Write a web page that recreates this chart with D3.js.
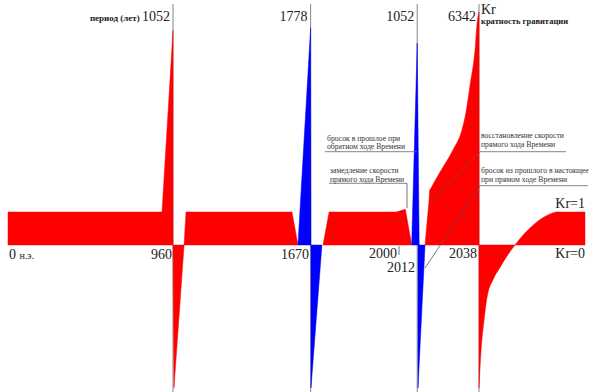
<!DOCTYPE html>
<html><head><meta charset="utf-8">
<script src="https://cdn.jsdelivr.net/npm/d3@7"></script>
<style>body{margin:0;background:#fff}svg{display:block}</style>
</head><body><svg id="c" width="591" height="392" font-family="'Liberation Serif','Times New Roman',serif"></svg>
<script>
// --- data (years on x, gravity multiple Kr on y) ---
const axisYears = [0, 960, 1670, 2000, 2012, 2038, 2100];
const axisLabels = ["0", "960", "1670", "2000", "2012", "2038"];
const periodYears = [960, 1668, 2011.5, 2038];
const periodLabels = ["1052", "1778", "1052", "6342"];
const redUp1 = [[0,0],[0,1],[896,1],[960,6.5],[960,0]];
const redDown1 = [[960,0],[1017,0],[965,-4.33]];
const redBlock2 = [[1017,0],[1027,1],[1572,1],[1603,0]];
const blueUp1 = [[1603,0],[1668,6.58],[1670,0]];
const blueDown1 = [[1670,0],[1711,0],[1670,-4.33]];
const redBlock3 = [[1715,0],[1738,1],[1989,1],[2004,1.08],[2008,0]];
const blueUp2 = [[2008,0],[2011.5,6.12],[2012.5,0]];
const blueDown2 = [[2012,0],[2015,0],[2012,-4.33]];
const redRiseStart = [[2015,0],[2017.1,1.67],[2017.1,0]];
const redRise = [[2017.1,1.67],[2021.4,2.21],[2026.9,2.88],[2030.7,3.48],[2032.4,4.0],[2034.2,4.85],[2036.3,5.91],[2037.3,6.8],[2038,7.06]];
const redRecover = [[2038,-4.33],[2039.2,-3.2],[2040.9,-2.3],[2042.7,-1.58],[2046.2,-1.05],[2050.3,-0.68],[2054.4,-0.33],[2059.1,0],[2064.3,0.33],[2069.6,0.6],[2075.5,0.83],[2079.5,0.94],[2083.6,1],[2100,1]];

const svg = d3.select("#c");
const x = d3.scaleLinear().domain(axisYears).range([8, 173, 311, 399, 418, 479, 585]);
const y = d3.scaleLinear().domain([0, 1]).range([245, 212]);

// period guide lines
svg.selectAll(".pl").data(periodYears).join("line")
  .attr("x1", d => x(d)).attr("x2", d => x(d)).attr("y1", 4).attr("y2", 392)
  .attr("stroke", "#666").attr("stroke-width", 0.8);

const poly = d3.line().x(d => x(d[0])).y(d => y(d[1]));
const shapes = [
  [redUp1, "#ff0000"], [redDown1, "#ff0000"], [redBlock2, "#ff0000"],
  [blueUp1, "#0000ff"], [blueDown1, "#0000ff"], [redBlock3, "#ff0000"],
  [blueUp2, "#0000ff"], [blueDown2, "#0000ff"], [redRiseStart, "#ff0000"]
];
svg.selectAll(".sh").data(shapes).join("path")
  .attr("d", d => poly(d[0]) + "Z").attr("fill", d => d[1])
  .attr("stroke", d => d[1] === "#ff0000" ? "#ff0000" : "#0000ee").attr("stroke-width", 0.5);

const area = d3.area().x(d => x(d[0])).y0(y(0)).y1(d => y(d[1])).curve(d3.curveMonotoneX);
[redRise, redRecover].forEach(s =>
  svg.append("path").attr("d", area(s)).attr("fill", "#ff0000").attr("stroke", "#ff0000").attr("stroke-width", 0.5));

// 2000 tick
svg.append("line").attr("x1", x(2000)).attr("x2", x(2000)).attr("y1", 246).attr("y2", 255)
  .attr("stroke", "#555").attr("stroke-width", 0.8);

// axis labels
const lab = svg.append("g").attr("fill", "#222").attr("font-size", 14);
lab.append("text").attr("x", x(0) + 1).attr("y", 259)
  .call(t => { t.append("tspan").text(axisLabels[0] + " "); t.append("tspan").attr("font-size", 10).text("н.э."); });
lab.append("text").attr("x", x(960) - 1).attr("y", 259).attr("text-anchor", "end").text(axisLabels[1]);
lab.append("text").attr("x", x(1670) - 2).attr("y", 259).attr("text-anchor", "end").text(axisLabels[2]);
lab.append("text").attr("x", x(2000) - 2).attr("y", 258).attr("text-anchor", "end").text(axisLabels[3]);
lab.append("text").attr("x", x(2012) - 3).attr("y", 272).attr("text-anchor", "end").text(axisLabels[4]);
lab.append("text").attr("x", x(2038) - 2).attr("y", 258).attr("text-anchor", "end").text(axisLabels[5]);
lab.append("text").attr("x", 585).attr("y", 208).attr("text-anchor", "end").text("Kr=1");
lab.append("text").attr("x", 585).attr("y", 258).attr("text-anchor", "end").text("Kr=0");

// period labels
periodLabels.forEach((p, i) => {
  const t = lab.append("text").attr("x", x(periodYears[i]) - 3).attr("y", 21).attr("text-anchor", "end");
  if (i === 0) t.append("tspan").attr("font-size", 9).attr("font-weight", "bold").text("период (лет) ");
  t.append("tspan").text(p);
});
lab.append("text").attr("x", x(2038) + 2).attr("y", 14).text("Kr");
lab.append("text").attr("x", x(2038) + 2).attr("y", 24).attr("font-size", 8.5).attr("font-weight", "bold").text("кратность гравитации");

// annotations
const ann = svg.append("g").attr("fill", "#333").attr("font-size", 7.7);
const notes = [
  {lines: ["бросок в прошлое при", "обратном ходе Времени"], x: 327, y: 140.7, ux1: 325, ux2: 417, uy: 151.7, lead: null},
  {lines: ["замедление скорости", "прямого хода Времени"], x: 330, y: 173.3, ux1: 329, ux2: 407, uy: 183.3, lead: [407, 208]},
  {lines: ["восстановление скорости", "прямого хода Времени"], x: 481, y: 138, ux1: 480, ux2: 566, uy: 151.7, lead: [429, 204]},
  {lines: ["бросок из прошлого в настоящее", "при прямом ходе Времени"], x: 481, y: 173.3, ux1: 480, ux2: 588, uy: 185.7, lead: [425, 268]}
];
notes.forEach(n => {
  n.lines.forEach((l, i) => ann.append("text").attr("x", n.x).attr("y", n.y + i * 8.6).text(l));
  svg.append("line").attr("x1", n.ux1).attr("x2", n.ux2).attr("y1", n.uy).attr("y2", n.uy).attr("stroke", "#666").attr("stroke-width", 0.8);
  if (n.lead) {
    const sx = n.ux1 === 480 ? n.ux1 : n.ux2;
    svg.append("line").attr("x1", sx).attr("y1", n.uy).attr("x2", n.lead[0]).attr("y2", n.lead[1]).attr("stroke", "#555").attr("stroke-width", 0.8);
  }
});
</script></body></html>
